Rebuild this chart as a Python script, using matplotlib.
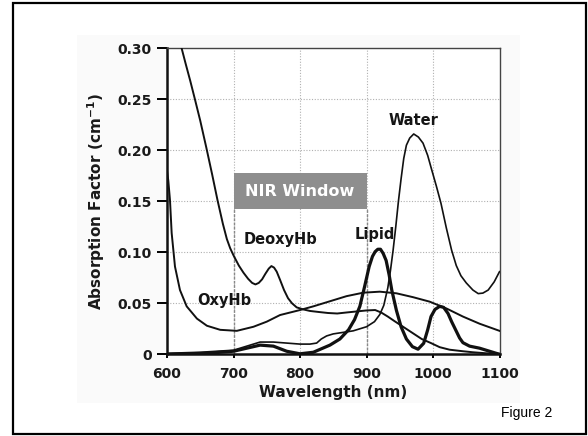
import numpy as np
import matplotlib
matplotlib.use("Agg")
from matplotlib import pyplot as plt
from matplotlib.patches import Rectangle

# absorption spectra (wavelength nm, absorption cm^-1)
deoxy_x = [622, 628, 635, 642, 650, 659, 668, 676, 684, 690, 695, 700, 708, 715,
           722, 728, 733, 738, 743, 748, 753, 757, 761, 765, 770, 776, 782, 788,
           795, 805, 815, 828, 842, 856, 870, 885, 900, 913, 922, 932, 941, 955,
           969, 983, 997, 1010, 1025, 1045, 1060, 1080, 1100]
deoxy_y = [0.300, 0.285, 0.268, 0.250, 0.229, 0.203, 0.176, 0.151, 0.128, 0.113,
           0.104, 0.097, 0.087, 0.080, 0.074, 0.070, 0.0685, 0.070, 0.0735, 0.079,
           0.084, 0.0865, 0.085, 0.081, 0.073, 0.063, 0.055, 0.050, 0.046, 0.044,
           0.0425, 0.0415, 0.0405, 0.040, 0.041, 0.042, 0.043, 0.0434, 0.041,
           0.037, 0.033, 0.027, 0.021, 0.015, 0.011, 0.007, 0.0045, 0.003, 0.002,
           0.001, 0.0005]

oxy_x = [600, 602, 604.5, 607, 612, 619.5, 629.6, 645, 660, 680, 705, 730, 750,
         770, 800, 820, 845, 870, 895, 920, 945, 970, 995, 1020, 1045, 1070, 1100]
oxy_y = [0.180, 0.170, 0.151, 0.119, 0.086, 0.063, 0.047, 0.035, 0.028, 0.024,
         0.023, 0.027, 0.032, 0.0385, 0.0434, 0.047, 0.052, 0.057, 0.0604, 0.0614,
         0.0598, 0.056, 0.0516, 0.045, 0.037, 0.030, 0.023]

water_x = [600, 650, 700, 720, 740, 760, 780, 800, 815, 825, 832, 840, 850, 860,
           880, 900, 912, 920, 926, 932, 936, 940, 944, 948, 952, 956, 960, 965,
           971, 978, 985, 992, 998, 1005, 1012, 1020, 1028, 1035, 1042, 1050,
           1060, 1068, 1075, 1083, 1092, 1100]
water_y = [0.001, 0.002, 0.004, 0.008, 0.012, 0.012, 0.011, 0.010, 0.010, 0.011,
           0.015, 0.018, 0.020, 0.021, 0.023, 0.027, 0.032, 0.039, 0.048, 0.065,
           0.082, 0.102, 0.125, 0.150, 0.172, 0.192, 0.205, 0.212, 0.216, 0.213,
           0.207, 0.195, 0.181, 0.165, 0.148, 0.124, 0.102, 0.087, 0.077, 0.070,
           0.063, 0.0595, 0.060, 0.063, 0.071, 0.081]

lipid_x = [600, 660, 700, 720, 740, 760, 780, 800, 820, 845, 860, 873, 882, 890,
           897, 904, 909, 913, 917, 921, 925, 929.5, 934, 938, 945, 952, 960, 969,
           977.5, 986, 992, 997, 1003, 1010, 1016, 1022.6, 1028, 1034, 1040, 1045,
           1055, 1070, 1085, 1100]
lipid_y = [0.0, 0.001, 0.003, 0.006, 0.009, 0.008, 0.003, 0.0005, 0.002, 0.009,
           0.015, 0.024, 0.034, 0.047, 0.066, 0.086, 0.096, 0.1006, 0.103, 0.103,
           0.099, 0.092, 0.078, 0.063, 0.043, 0.027, 0.015, 0.0075, 0.005, 0.0108,
           0.024, 0.037, 0.044, 0.047, 0.046, 0.040, 0.032, 0.024, 0.016, 0.0114,
           0.008, 0.006, 0.003, 0.0]

xticks = [600, 700, 800, 900, 1000, 1100]
yticks = [0, 0.05, 0.10, 0.15, 0.20, 0.25, 0.30]
ytick_labels = ["0", "0.05", "0.10", "0.15", "0.20", "0.25", "0.30"]

labels = ["Water", "DeoxyHb", "Lipid", "OxyHb"]
label_x = [970, 771, 912, 686]
label_y = [0.229, 0.113, 0.1176, 0.053]

fig = plt.figure(figsize=(5.88, 4.36), dpi=100)
fig.patch.set_facecolor("white")

# faint scan background and outer frame
fig.add_artist(Rectangle((77 / 588, 1 - 403 / 436), 443 / 588, 368 / 436,
                         transform=fig.transFigure, facecolor="#fafafa",
                         edgecolor="none", zorder=-5))
fig.add_artist(Rectangle((13 / 588, 2 / 436), 573 / 588, 431 / 436,
                         transform=fig.transFigure, facecolor="none",
                         edgecolor="black", linewidth=1.6, zorder=5))

ax = fig.add_axes([167 / 588, 1 - 354.3 / 436, 332.5 / 588, 306 / 436])
ax.set_facecolor("white")

ax.set_xlim(600, 1100)
ax.set_ylim(0, 0.30)
ax.set_xticks(xticks)
ax.set_yticks(yticks)
ax.set_yticklabels(ytick_labels)

for t in ax.get_xticklabels() + ax.get_yticklabels():
    t.set_fontweight("bold")
    t.set_fontsize(10)
    t.set_color("#1a1a1a")
ax.tick_params(axis="y", direction="out", length=7, width=1.4, pad=4)
ax.tick_params(axis="x", direction="out", length=3, width=1.4, pad=6)

# dotted grid
for gx in [700, 800, 900, 1000]:
    ax.axvline(gx, color="#b0b0b0", linestyle=(0, (1, 1.5)), linewidth=0.8, zorder=0)
for gy in [0.05, 0.10, 0.15, 0.20, 0.25]:
    ax.axhline(gy, color="#b0b0b0", linestyle=(0, (1, 1.5)), linewidth=0.8, zorder=0)
# darker dashed edges of the NIR window
for gx in [700, 900]:
    ax.plot([gx, gx], [0, 0.142], color="#888888", linestyle=(0, (2, 1)),
            linewidth=1.0, zorder=1)

ax.add_patch(Rectangle((700, 0.142), 200, 0.0355, facecolor="#8e8e8e",
                       edgecolor="none", zorder=2))
ax.text(800, 0.1598, "NIR Window", color="white", fontsize=11.5,
        fontweight="bold", ha="center", va="center", zorder=3)

ax.plot(deoxy_x, deoxy_y, color="#111111", linewidth=1.4, zorder=4)
ax.plot(oxy_x, oxy_y, color="#111111", linewidth=1.4, zorder=4)
ax.plot(water_x, water_y, color="#111111", linewidth=1.2, zorder=4)
ax.plot(lipid_x, lipid_y, color="#111111", linewidth=2.3, zorder=4)

for name, lx, ly in zip(labels, label_x, label_y):
    ax.text(lx, ly, name, fontsize=10.5, fontweight="bold", color="#151515",
            ha="center", va="center", zorder=5)

for side in ["left", "bottom"]:
    ax.spines[side].set_linewidth(1.8)
    ax.spines[side].set_color("#111111")
for side in ["top", "right"]:
    ax.spines[side].set_linewidth(1.0)
    ax.spines[side].set_color("#444444")

ax.set_xlabel("Wavelength (nm)", fontsize=11, fontweight="bold",
              color="#1a1a1a", labelpad=3)
ax.set_ylabel(r"Absorption Factor (cm$^{\mathbf{-1}}$)", fontsize=11,
              fontweight="bold", color="#1a1a1a")
ax.yaxis.set_label_coords(-0.18, 0.5)

fig.text(527 / 588, 1 - 413 / 436, "Figure 2", family="Liberation Sans",
         fontsize=10, ha="center", va="center")

fig.savefig("out.png", dpi=100)
